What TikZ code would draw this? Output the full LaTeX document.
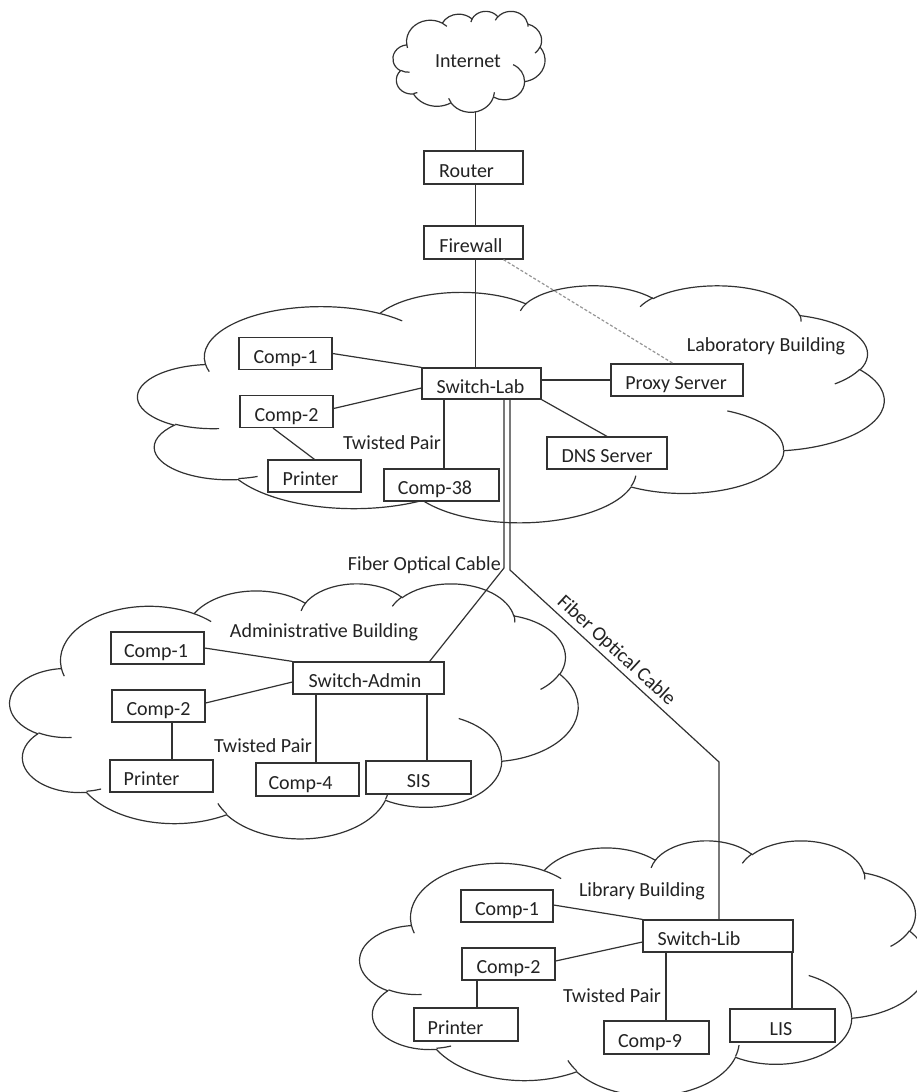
\documentclass[tikz,border=0pt]{standalone}
\usepackage{fontspec}
\setmainfont{Carlito}
\usetikzlibrary{calc}
\definecolor{ln}{RGB}{50,50,50}
\definecolor{tx}{RGB}{35,35,35}
\definecolor{dshc}{RGB}{150,150,150}

% convert a DrawingML visual-angle arc into parametric start/end angles
\newcommand\mkarc[6]{%
  \pgfmathparse{atan2((#3)*sin(#5),(#4)*cos(#5))}\global\let#1\pgfmathresult
  \pgfmathparse{atan2((#3)*sin((#5)+(#6)),(#4)*cos((#5)+(#6)))}\let\mkE\pgfmathresult
  \pgfmathparse{\mkE<#1 ? \mkE+360 : \mkE}\global\let#2\pgfmathresult}
\mkarc\oAs\oAe{67.53}{91.90}{-190.4875}{123.7805}
\mkarc\oBs\oBe{53.33}{72.67}{-144.1024}{89.9452}
\mkarc\oCs\oCe{43.65}{59.45}{-145.8079}{99.7230}
\mkarc\oDs\oDe{48.57}{65.95}{-130.9861}{117.2417}
\mkarc\oEs\oEe{53.33}{72.73}{-78.7089}{109.0269}
\mkarc\oFs\oFe{67.75}{92.20}{-46.2673}{130.2690}
\mkarc\oGs\oGe{57.85}{78.67}{0.6250}{114.0333}
\mkarc\oHs\oHe{67.52}{92.15}{22.4516}{115.1726}
\mkarc\oIs\oIe{77.20}{105.43}{66.2426}{75.7110}
\mkarc\oJs\oJe{43.60}{59.18}{-274.9421}{146.7356}
\mkarc\oKs\oKe{43.45}{59.45}{-246.8285}{152.5189}
\mkarc\iAs\iAe{43.45}{59.45}{86.7420}{26.4295}
\mkarc\iBs\iBe{43.60}{59.18}{73.6105}{11.4475}
\mkarc\iCs\iCe{67.52}{92.15}{137.6242}{14.0811}
\mkarc\iDs\iDe{67.52}{92.15}{6.4533}{15.9984}
\mkarc\iEs\iEe{57.85}{78.67}{-70.2924}{70.9174}
\mkarc\iFs\iFe{53.33}{72.73}{30.3180}{27.7515}
\mkarc\iGs\iGe{48.57}{65.95}{-13.7443}{14.8589}
\mkarc\iHs\iHe{48.57}{65.95}{-149.1815}{18.1954}
\mkarc\iIs\iIe{43.65}{59.45}{-163.4943}{17.6864}
\mkarc\iJs\iJe{67.53}{91.90}{-66.7070}{12.3194}
\mkarc\iKs\iKe{67.53}{91.90}{157.6544}{11.8582}

\newcommand\drawcloud[4]{%
\begin{scope}[shift={(#1,#2)},xscale=#3/432,yscale=#4/432]
\draw[cloudln,fill=white] (39,143.7)
 arc[start angle=\oAs,end angle=\oAe,x radius=67.53,y radius=91.90]
 arc[start angle=\oBs,end angle=\oBe,x radius=53.33,y radius=72.67]
 arc[start angle=\oCs,end angle=\oCe,x radius=43.65,y radius=59.45]
 arc[start angle=\oDs,end angle=\oDe,x radius=48.57,y radius=65.95]
 arc[start angle=\oEs,end angle=\oEe,x radius=53.33,y radius=72.73]
 arc[start angle=\oFs,end angle=\oFe,x radius=67.75,y radius=92.20]
 arc[start angle=\oGs,end angle=\oGe,x radius=57.85,y radius=78.67]
 arc[start angle=\oHs,end angle=\oHe,x radius=67.52,y radius=92.15]
 arc[start angle=\oIs,end angle=\oIe,x radius=77.20,y radius=105.43]
 arc[start angle=\oJs,end angle=\oJe,x radius=43.60,y radius=59.18]
 arc[start angle=\oKs,end angle=\oKe,x radius=43.45,y radius=59.45]
 -- cycle;
\draw[cloudln]
 (46.93,261.77) arc[start angle=\iAs,end angle=\iAe,x radius=43.45,y radius=59.45]
 (69.28,348.99) arc[start angle=\iBs,end angle=\iBe,x radius=43.60,y radius=59.18]
 (164.78,390.90) arc[start angle=\iCs,end angle=\iCe,x radius=67.52,y radius=92.15]
 (288.27,347.51) arc[start angle=\iDs,end angle=\iDe,x radius=67.52,y radius=92.15]
 (341.29,229.54) arc[start angle=\iEs,end angle=\iEe,x radius=57.85,y radius=78.67]
 (417.98,153.54) arc[start angle=\iFs,end angle=\iFe,x radius=53.33,y radius=72.73]
 (383.24,54.26) arc[start angle=\iGs,end angle=\iGe,x radius=48.57,y radius=65.95]
 (290.78,39.52) arc[start angle=\iHs,end angle=\iHe,x radius=48.57,y radius=65.95]
 (221.41,47.20) arc[start angle=\iIs,end angle=\iIe,x radius=43.65,y radius=59.45]
 (140.00,51.92) arc[start angle=\iJs,end angle=\iJe,x radius=67.53,y radius=91.90]
 (41.27,157.89) arc[start angle=\iKs,end angle=\iKe,x radius=67.53,y radius=91.90];
\end{scope}}
\newcommand\lft[1]{\hspace*{#1pt}}

\begin{document}
\begin{tikzpicture}[x=1pt,y=-1pt,
  cloudln/.style={draw=ln,line width=1.2pt},
  conn/.style={draw=ln,line width=1.2pt},
  dashln/.style={draw=dshc,line width=1.2pt,dash pattern=on 3pt off 2pt},
  bx/.style={draw=ln,fill=white,line width=1.2pt,inner sep=0pt,text=tx,
     font=\fontsize{20}{24}\selectfont,text height=19pt,text depth=0pt},
  lbl/.style={inner sep=0pt,text=tx,font=\fontsize{20}{24}\selectfont,
     text height=13pt,text depth=0pt}]
\useasboundingbox[fill=white] (0,0) rectangle (916,1092);

% clouds
\drawcloud{393}{11}{152}{101}
\drawcloud{138}{285}{746}{237}
\drawcloud{10}{583}{568}{255}
\drawcloud{360}{840}{568}{255}

% top chain
\node[bx,minimum width=99,minimum height=33] (router) at (473.5,167.5) {Router\lft{14}};
\node[bx,minimum width=99,minimum height=33] (firewall) at (473.5,242.5) {Firewall\lft{5}};

% laboratory
\node[bx,minimum width=119,minimum height=31] (swlab) at (481.5,383.5) {Switch-Lab\lft{2}};
\node[bx,minimum width=93,minimum height=32] (lc1) at (285.5,353.5) {Comp-1};
\node[bx,minimum width=93,minimum height=32] (lc2) at (286.5,411.5) {Comp-2};
\node[bx,minimum width=93,minimum height=32] (lpr) at (314.5,476) {Printer\lft{8}};
\node[bx,minimum width=115,minimum height=32] (lc38) at (441.5,485) {Comp-38\lft{13}};
\node[bx,minimum width=132,minimum height=32] (proxy) at (677,380) {Proxy Server\lft{2}};
\node[bx,minimum width=120,minimum height=32] (dns) at (607,453) {DNS Server};

% administrative
\node[bx,minimum width=151,minimum height=32] (swadm) at (368.5,678) {Switch-Admin\lft{7}};
\node[bx,minimum width=93,minimum height=32] (ac1) at (157.5,648) {Comp-1\lft{3}};
\node[bx,minimum width=93,minimum height=32] (ac2) at (158.5,706) {Comp-2};
\node[bx,minimum width=103,minimum height=32] (apr) at (161.5,776) {Printer\lft{20}};
\node[bx,minimum width=103,minimum height=33] (ac4) at (307.5,779.5) {Comp-4\lft{14}};
\node[bx,minimum width=105,minimum height=33] (sis) at (418.5,777.5) {SIS};

% library
\node[bx,minimum width=150,minimum height=32] (swlib) at (718,936) {Switch-Lib\lft{38}};
\node[bx,minimum width=92,minimum height=32] (bc1) at (507,906) {Comp-1};
\node[bx,minimum width=93,minimum height=32] (bc2) at (508.5,964) {Comp-2};
\node[bx,minimum width=104,minimum height=33] (bpr) at (466,1024.5) {Printer\lft{21}};
\node[bx,minimum width=105,minimum height=33] (bc9) at (656.5,1037.5) {Comp-9\lft{13}};
\node[bx,minimum width=105,minimum height=33] (lis) at (782.5,1025.5) {LIS\lft{3}};

% labels
\node[lbl] (tinet) at (468,61) {Internet};
\node[lbl] (tlab) at (766,345) {Laboratory Building};
\node[lbl] (ttp1) at (392,443) {Twisted Pair};
\node[lbl,anchor=east] (tfo1) at (501,564) {Fiber Optical Cable};
\node[lbl] (tadm) at (324,631) {Administrative Building};
\node[lbl] (ttp2) at (263,746) {Twisted Pair};
\node[lbl] (tlib) at (642,890) {Library Building};
\node[lbl] (ttp3) at (612,996) {Twisted Pair};
\node[lbl,rotate=-42.6] (tfo2) at (617,650) {Fiber Optical Cable};

% top connectors
\coordinate (inb) at (475.5,112);
\draw[conn] (inb) -- (inb |- router.north);
\draw[conn] (inb |- router.south) -- (inb |- firewall.north);
\draw[conn] (inb |- firewall.south) -- (inb |- swlab.north);
\draw[dashln] ($(firewall.south)+(30,0)$) -- ($(proxy.north)+(-4,0)$);

% lab connectors
\draw[conn] (lc1.east) -- (swlab.north west);
\draw[conn] ($(lc2.east)+(0,-3)$) -- ($(swlab.west)+(0,4.5)$);
\draw[conn] ($(lc2.south)+(-13.5,0)$) -- (lpr.north);
\coordinate (p38) at ($(lc38.north)+(2.5,0)$);
\draw[conn] (p38) -- (p38 |- swlab.south);
\draw[conn] (proxy.west) -- (proxy.west -| swlab.east);
\draw[conn] (swlab.south east) -- (dns.north);

% fiber
\coordinate (fl) at (504,568);
\coordinate (fr) at (510,570);
\coordinate (fk) at (719,762);
\draw[conn] (fl |- swlab.south) -- (fl) -- ($(swadm.north east)+(-15,0)$);
\draw[conn] (fr |- swlab.south) -- (fr) -- (fk) -- (fk |- swlib.north);

% admin connectors
\draw[conn] (ac1.east) -- (swadm.north west);
\draw[conn] ($(ac2.east)+(0,-3)$) -- ($(swadm.west)+(0,4)$);
\coordinate (pa) at ($(ac2.south)+(13.5,0)$);
\draw[conn] (pa) -- (pa |- apr.north);
\coordinate (p4) at ($(ac4.north)+(8.5,0)$);
\draw[conn] (p4) -- (p4 |- swadm.south);
\coordinate (ps) at ($(sis.north)+(8.5,0)$);
\draw[conn] (ps) -- (ps |- swadm.south);

% library connectors
\draw[conn] ($(bc1.east)+(0,-1)$) -- (swlib.north west);
\draw[conn] ($(bc2.east)+(0,-3)$) -- ($(swlib.west)+(0,6)$);
\coordinate (pb) at ($(bc2.south)+(-31.5,0)$);
\draw[conn] (pb) -- (pb |- bpr.north);
\coordinate (p9) at ($(bc9.north)+(9.5,0)$);
\draw[conn] (p9) -- (p9 |- swlib.south);
\coordinate (pl) at ($(lis.north)+(9.5,0)$);
\draw[conn] (pl) -- (pl |- swlib.south);
\end{tikzpicture}
\end{document}
